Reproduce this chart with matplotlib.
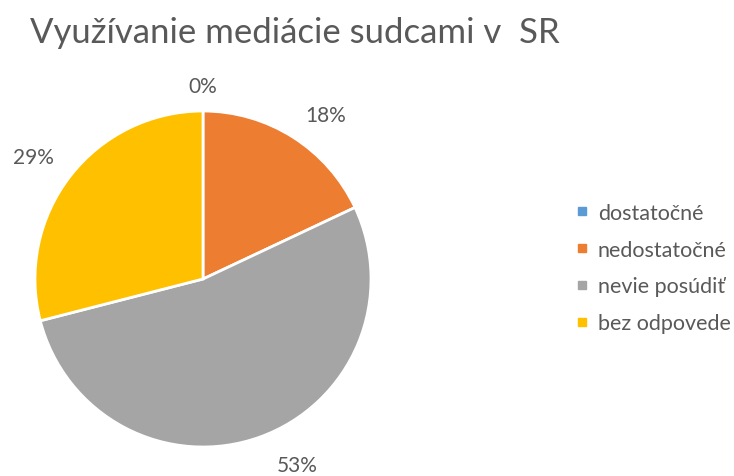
import matplotlib.pyplot as plt
from matplotlib.lines import Line2D

categories = ["dostatočné", "nedostatočné", "nevie posúdiť", "bez odpovede"]
values = [0, 18, 53, 29]
colors = ["#5B9BD5", "#ED7D31", "#A5A5A5", "#FFC000"]

plt.rcParams['font.family'] = ['Lato', 'DejaVu Sans']
text_color = "#595959"

fig = plt.figure(figsize=(7.34, 4.77), dpi=100)
W, H = 734, 477
cx, cy, r = 203, 280, 168
ax = fig.add_axes([(cx - r) / W, (H - cy - r) / H, 2 * r / W, 2 * r / H])

wedges, texts = ax.pie(values, colors=colors, startangle=90, counterclock=False,
                       labels=[f"{v}%" for v in values], labeldistance=1.22,
                       wedgeprops=dict(edgecolor="white", linewidth=2))
# label spots in pixels, like Excel's best fit placement
label_px = [(203, 87), (326, 116), (297, 466), (33, 158)]
for t, (px, py) in zip(texts, label_px):
    t.set_color(text_color)
    t.set_fontsize(15)
    t.set_ha("center")
    t.set_va("center")
    t.set_position(((px - cx) / r, (cy - py) / r))
ax.set_aspect("equal")
ax.set_xlim(-1, 1)
ax.set_ylim(-1, 1)

fig.text(30 / W, 1 - 33 / H, "Využívanie mediácie sudcami v  SR", fontsize=25,
         color=text_color, ha="left", va="center")

handles = [Line2D([], [], marker="s", linestyle="", markersize=6, color=c) for c in colors]
leg = fig.legend(handles, categories, loc="center left", bbox_to_anchor=(556 / W, 1 - 269 / H),
                 frameon=False, fontsize=15.5, labelspacing=0.78, handlelength=0.6,
                 handletextpad=0.45, labelcolor=text_color)

fig.savefig("out.png", dpi=100)
